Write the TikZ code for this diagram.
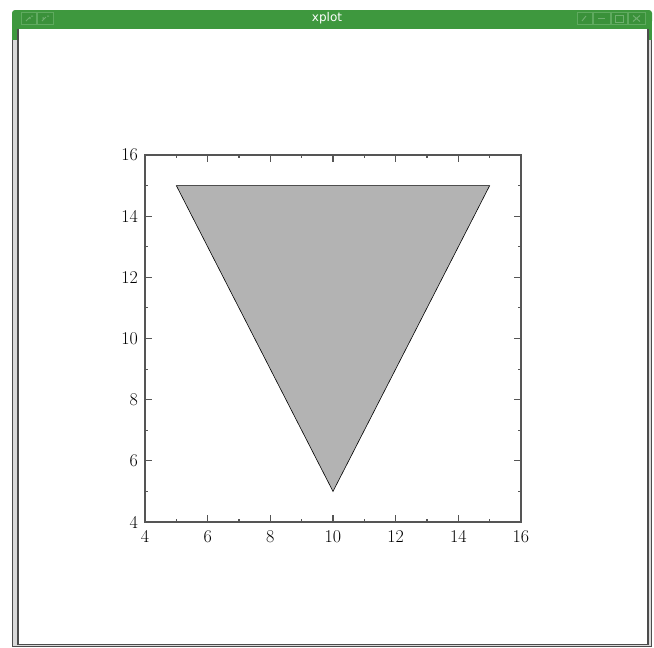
\documentclass[tikz,border=0pt]{standalone}
\usepackage{fontspec}
\newfontfamily\barfont{DejaVu Sans}
\definecolor{bargreen}{RGB}{62,152,62}
\definecolor{btngreen}{RGB}{58,145,58}
\definecolor{btnedge}{RGB}{95,170,95}
\definecolor{glyph}{RGB}{110,175,110}
\definecolor{axisgray}{RGB}{85,85,85}
\definecolor{trifill}{RGB}{179,179,179}
\begin{document}
\begin{tikzpicture}[x=1pt,y=-1pt,
  btn/.style={draw=btnedge,fill=btngreen,line width=0.8pt},
  glyphline/.style={draw=glyph,line width=1pt},
  axisline/.style={draw=axisgray,line width=1.1pt},
  ticklabel/.style={font=\fontsize{18}{18}\selectfont\addfontfeature{FakeBold=0.8},inner sep=0pt}]
\useasboundingbox (0,0) rectangle (654,648);
% window frame
\fill[gray!30] (12,22) rectangle (652,647);
\draw[black!70,line width=0.8pt] (12.4,22) -- (12.4,646.6) -- (651.6,646.6) -- (651.6,22);
\fill[white] (18,29) rectangle (648,644);
\draw[gray!60!black,line width=1.2pt] (18,29) -- (18,644.4) -- (648,644.4) -- (648,29);
% title bar
\fill[bargreen,rounded corners=3pt] (12,10) rectangle (652,24);
\fill[bargreen] (12,20) rectangle (652,28.5);
\fill[bargreen] (12,28) rectangle (17.4,40);
\fill[bargreen] (648.6,28) rectangle (652,40);
\node[font=\barfont\fontsize{12}{12}\selectfont,text=white,inner sep=0pt] (title) at (327,18.5) {xplot};
% buttons
\draw[btn] (21,12.5) rectangle (36.5,24.5);
\draw[btn] (37.5,12.5) rectangle (53,24.5);
\draw[glyphline] (26,21) -- (30,17) (30,17) -- (30,19) (31,16) -- (33,16);
\draw[glyphline] (42,21) -- (46,17) (47,16) -- (49,16) (43,17) -- (43,19);
\draw[btn] (577,12.5) rectangle (592,24.5);
\draw[btn] (593,12.5) rectangle (610,24.5);
\draw[btn] (611,12.5) rectangle (627,24.5);
\draw[btn] (628,12.5) rectangle (645,24.5);
\draw[glyphline] (582,21) -- (586,16);
\draw[glyphline] (598,18.5) -- (605,18.5);
\draw[glyphline] (615,15.5) rectangle (623,22);
\draw[glyphline] (633,21.5) -- (640,15.5) (633,15.5) -- (640,21.5);
% plot
\begin{scope}[shift={(19.667,644.333)},x={(31.333pt,0pt)},y={(0pt,30.583pt)}]
  \coordinate (A) at (5,15);
  \coordinate (B) at (15,15);
  \coordinate (C) at (10,5);
  \filldraw[fill=trifill,draw=black,line width=0.6pt,line join=miter] (A) -- (B) -- (C) -- cycle;
  \foreach \v in {4,6,...,16} {
    \draw[axisline] (\v,4) -- ++(0pt,7pt);
    \draw[axisline] (\v,16) -- ++(0pt,-7pt);
    \draw[axisline] (4,\v) -- ++(7pt,0pt);
    \draw[axisline] (16,\v) -- ++(-7pt,0pt);
    \node[ticklabel,anchor=north] (xl\v) at ([yshift=-8pt]\v,4) {\v};
    \node[ticklabel,anchor=east] (yl\v) at ([xshift=-7pt]4,\v) {\v};
  }
  \foreach \v in {5,7,...,15} {
    \draw[axisline] (\v,4) -- ++(0pt,3pt);
    \draw[axisline] (\v,16) -- ++(0pt,-3pt);
    \draw[axisline] (4,\v) -- ++(3pt,0pt);
    \draw[axisline] (16,\v) -- ++(-3pt,0pt);
  }
  \draw[axisline] (4,4) rectangle (16,16);
\end{scope}
\end{tikzpicture}
\end{document}
